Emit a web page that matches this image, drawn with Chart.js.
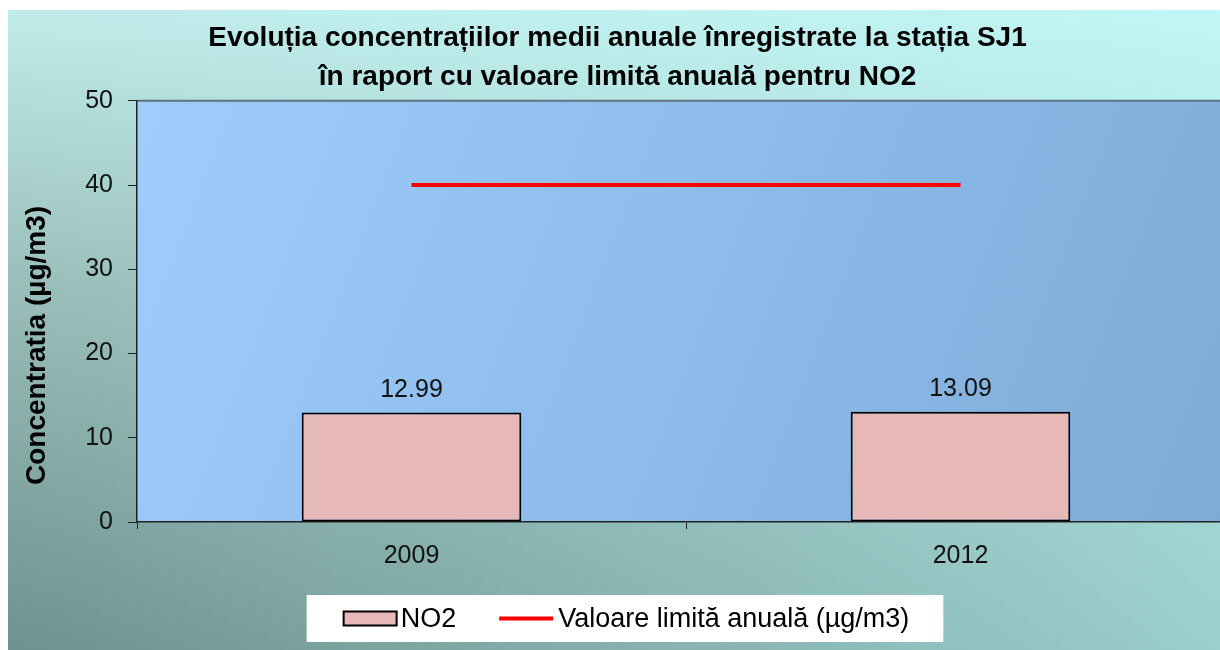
<!DOCTYPE html>
<html>
<head>
<meta charset="utf-8">
<script src="https://cdn.jsdelivr.net/npm/chart.js@4.4.1/dist/chart.umd.min.js"></script>
<style>
  html, body { margin: 0; padding: 0; overflow: hidden; background: #fff; }
  #wrap { position: absolute; left: 0; top: 0; width: 1235px; height: 650px; }
</style>
</head>
<body>
<div id="wrap"><canvas id="c" width="1235" height="650"></canvas></div>
<script>
// ---- data ----
const categories = ['2009', '2012'];
const no2Values = [12.99, 13.09];
const limitValues = [40, 40];
const yTicks = [0, 10, 20, 30, 40, 50];
const titleLines = ['Evoluția concentrațiilor medii anuale înregistrate la stația SJ1',
                    'în raport cu valoare limită anuală pentru NO2'];
const seriesNames = ['NO2', 'Valoare limită anuală (µg/m3)'];
const yTitle = 'Concentratia (µg/m3)';

const FONT = "'Liberation Sans', Arial, sans-serif";

const bgPlugin = {
  id: 'bg',
  beforeDraw(chart) {
    const { ctx, width, height, chartArea: a } = chart;
    ctx.save();
    ctx.fillStyle = '#ffffff';
    ctx.fillRect(0, 0, width, height);
    const g = ctx.createLinearGradient(0, 10, 0, height);
    g.addColorStop(0, '#c0ecea');
    g.addColorStop(0.45, '#98bcb8');
    g.addColorStop(1, '#6e928e');
    ctx.fillStyle = g;
    ctx.fillRect(8, 10, width - 8, height - 10);
    const h = ctx.createLinearGradient(8, 0, 1220, 0);
    h.addColorStop(0, 'rgba(192,255,255,0)');
    h.addColorStop(1, 'rgba(192,255,255,0.55)');
    ctx.fillStyle = h;
    ctx.fillRect(8, 10, width - 8, height - 10);
    // plot area
    const p = ctx.createLinearGradient(a.left, a.top, a.right, a.bottom);
    p.addColorStop(0, '#9ecdfc');
    p.addColorStop(0.4, '#90bfee');
    p.addColorStop(1, '#7eaad6');
    ctx.fillStyle = p;
    ctx.fillRect(a.left, a.top, a.right - a.left, a.bottom - a.top);
    ctx.strokeStyle = '#5f7380';
    ctx.lineWidth = 2;
    ctx.beginPath();
    ctx.moveTo(a.left, a.top);
    ctx.lineTo(a.right, a.top);
    ctx.stroke();
    ctx.restore();
  }
};

const labelPlugin = {
  id: 'valueLabels',
  afterDatasetsDraw(chart) {
    const { ctx } = chart;
    const meta = chart.getDatasetMeta(0);
    ctx.save();
    ctx.font = '25px ' + FONT;
    ctx.fillStyle = '#111';
    ctx.textAlign = 'center';
    ctx.textBaseline = 'alphabetic';
    meta.data.forEach((bar, i) => {
      ctx.fillText(no2Values[i].toFixed(2), bar.x, bar.y - 16);
    });
    ctx.restore();
  }
};

// y-axis title placed like the original (anchored near the bottom of the axis)
const yTitlePlugin = {
  id: 'yTitle',
  afterDraw(chart) {
    const { ctx, chartArea: a } = chart;
    ctx.save();
    ctx.translate(37, a.bottom - 37);
    ctx.rotate(-Math.PI / 2);
    ctx.font = 'bold 28px ' + FONT;
    ctx.fillStyle = '#000';
    ctx.textAlign = 'left';
    ctx.textBaseline = 'middle';
    ctx.fillText(yTitle, 0, 0);
    ctx.restore();
  }
};

// boxed legend like the original
const legendPlugin = {
  id: 'boxLegend',
  afterDraw(chart) {
    const { ctx, chartArea: a } = chart;
    const ds = chart.data.datasets;
    ctx.save();
    ctx.font = '27px ' + FONT;
    const w0 = ctx.measureText(ds[0].label).width;
    const w1 = ctx.measureText(ds[1].label).width;
    const sw = 53, gapA = 4, gapB = 43, lw = 54, gapC = 5, padL = 37, padR = 34;
    const content = sw + gapA + w0 + gapB + lw + gapC + w1;
    const boxW = padL + content + padR;
    const cx = 625;
    const boxL = cx - boxW / 2;
    const top = a.bottom + 73, bottom = a.bottom + 120;
    const cy = (top + bottom) / 2;
    ctx.fillStyle = '#ffffff';
    ctx.fillRect(boxL, top, boxW, bottom - top);
    let x = boxL + padL;
    ctx.fillStyle = ds[0].backgroundColor;
    ctx.fillRect(x, cy - 7, sw, 14);
    ctx.strokeStyle = ds[0].borderColor;
    ctx.lineWidth = 2;
    ctx.strokeRect(x, cy - 7, sw, 14);
    x += sw + gapA;
    ctx.fillStyle = '#000';
    ctx.textAlign = 'left';
    ctx.textBaseline = 'middle';
    ctx.fillText(ds[0].label, x, cy + 1);
    x += w0 + gapB;
    ctx.strokeStyle = ds[1].borderColor;
    ctx.lineWidth = 4;
    ctx.beginPath();
    ctx.moveTo(x, cy);
    ctx.lineTo(x + lw, cy);
    ctx.stroke();
    x += lw + gapC;
    ctx.fillText(ds[1].label, x, cy + 1);
    ctx.restore();
  }
};

new Chart(document.getElementById('c'), {
  type: 'bar',
  data: {
    labels: categories,
    datasets: [
      {
        type: 'bar',
        label: seriesNames[0],
        data: no2Values,
        backgroundColor: '#e6b8b7',
        borderColor: '#000000',
        borderWidth: 2,
        borderSkipped: false,
        categoryPercentage: 1,
        barPercentage: 0.4
      },
      {
        type: 'line',
        label: seriesNames[1],
        data: limitValues,
        borderColor: '#ff0000',
        backgroundColor: '#ff0000',
        borderWidth: 4,
        pointRadius: 0,
        fill: false
      }
    ]
  },
  options: {
    responsive: false,
    devicePixelRatio: 1,
    animation: false,
    layout: { autoPadding: false, padding: { left: 0, right: 0, top: 0, bottom: 53 } },
    plugins: {
      title: {
        display: true,
        text: titleLines,
        color: '#000',
        font: { family: FONT, size: 28, weight: 'bold', lineHeight: 1.39 },
        padding: { top: 19, bottom: 4 }
      },
      legend: { display: false },
      tooltip: { enabled: false }
    },
    scales: {
      x: {
        offset: true,
        afterFit(scale) { scale.height = 75; },
        grid: { display: true, drawOnChartArea: false, drawTicks: true, tickLength: 7, color: '#222', offset: true },
        border: { display: true, color: '#222', width: 1.5 },
        ticks: { color: '#111', font: { family: FONT, size: 25 }, padding: 12, maxRotation: 0 }
      },
      y: {
        min: 0,
        max: 50,
        afterFit(scale) { scale.width = 137; },
        afterBuildTicks(scale) { scale.ticks = yTicks.map(v => ({ value: v })); },
        title: { display: false },
        grid: { display: true, drawOnChartArea: false, drawTicks: true, tickLength: 9, color: '#222' },
        border: { display: true, color: '#222', width: 1.5 },
        ticks: { color: '#111', font: { family: FONT, size: 25 }, padding: 15 }
      }
    }
  },
  plugins: [bgPlugin, labelPlugin, yTitlePlugin, legendPlugin]
});
</script>
</body>
</html>
